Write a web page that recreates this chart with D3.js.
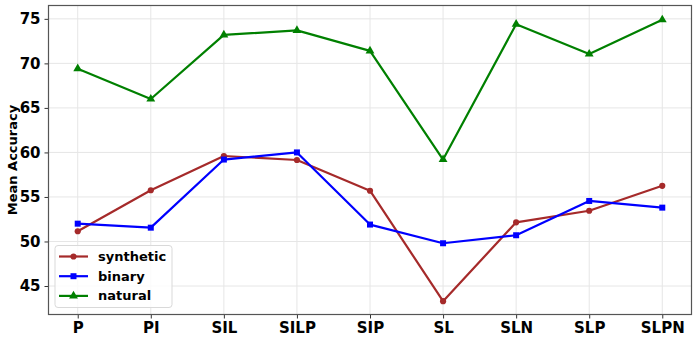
<!DOCTYPE html>
<html>
<head>
<meta charset="utf-8">
<script src="https://cdn.jsdelivr.net/npm/d3@7"></script>
<style>
  body { margin: 0; background: #fff; }
  svg text { font-family: "DejaVu Sans", sans-serif; font-weight: bold; }
</style>
</head>
<body>
<div id="chart"></div>
<script>
'use strict';

/** Data */
const categories = ["P", "PI", "SIL", "SILP", "SIP", "SL", "SLN", "SLP", "SLPN"];
const synthetic = [51.15, 55.75, 59.6, 59.15, 55.7, 43.3, 52.15, 53.45, 56.25];
const binary = [52.0, 51.55, 59.2, 60.0, 51.9, 49.8, 50.7, 54.55, 53.8];
const natural = [69.4, 66.0, 73.2, 73.7, 71.4, 59.2, 74.4, 71.05, 74.9];
const yTicks = [45, 50, 55, 60, 65, 70, 75];

const series = [
  { name: "synthetic", values: synthetic, color: "#a52a2a", marker: "circle" },
  { name: "binary", values: binary, color: "#0000ff", marker: "square" },
  { name: "natural", values: natural, color: "#008000", marker: "triangle" }
];

/** Dimensions */
const w = 698;
const h = 341;
const margin = { top: 5.5, right: 6.5, bottom: 26.5, left: 48.5 };

const svg = d3.select("#chart")
  .append("svg")
  .attr("width", w)
  .attr("height", h);

const xScale = d3.scaleLinear()
  .domain([-0.4, categories.length - 1 + 0.4])
  .range([margin.left, w - margin.right]);

const yScale = d3.scaleLinear()
  .domain([41.8, 76.5])
  .range([h - margin.bottom, margin.top]);

/* Grid */
const grid = svg.append("g").attr("class", "grid");
grid.selectAll("line.gx")
  .data(categories)
  .join("line")
  .attr("x1", (d, i) => xScale(i))
  .attr("x2", (d, i) => xScale(i))
  .attr("y1", yScale.range()[0])
  .attr("y2", yScale.range()[1])
  .attr("stroke", "#e6e6e6")
  .attr("stroke-width", 1);
grid.selectAll("line.gy")
  .data(yTicks)
  .join("line")
  .attr("x1", xScale.range()[0])
  .attr("x2", xScale.range()[1])
  .attr("y1", d => yScale(d))
  .attr("y2", d => yScale(d))
  .attr("stroke", "#e6e6e6")
  .attr("stroke-width", 1);

/* Axes */
const xAxis = d3.axisBottom(xScale)
  .tickValues(d3.range(categories.length))
  .tickFormat(i => categories[i])
  .tickSizeOuter(0)
  .tickSize(4)
  .tickPadding(4);

const yAxis = d3.axisLeft(yScale)
  .tickValues(yTicks)
  .tickSizeOuter(0)
  .tickSize(4)
  .tickPadding(4);

const gx = svg.append("g")
  .attr("transform", "translate(0," + (h - margin.bottom) + ")")
  .call(xAxis);
const gy = svg.append("g")
  .attr("transform", "translate(" + margin.left + ",0)")
  .call(yAxis);

[gx, gy].forEach(g => {
  g.select(".domain").remove();
  g.selectAll(".tick line").attr("stroke", "#333");
  g.selectAll(".tick text")
    .attr("fill", "#000")
    .style("font-size", "15px")
    .style("font-family", "'DejaVu Sans', sans-serif")
    .style("font-weight", "bold");
});

/* Frame */
svg.append("rect")
  .attr("x", margin.left)
  .attr("y", margin.top)
  .attr("width", w - margin.left - margin.right)
  .attr("height", h - margin.top - margin.bottom)
  .attr("fill", "none")
  .attr("stroke", "#555")
  .attr("stroke-width", 1.2);

/* Y label */
svg.append("text")
  .attr("transform", "translate(17," + ((margin.top + h - margin.bottom) / 2) + ") rotate(-90)")
  .attr("text-anchor", "middle")
  .style("font-size", "13px")
  .text("Mean Accuracy");

/* Lines */
const line = d3.line()
  .x((d, i) => xScale(i))
  .y(d => yScale(d));

const symbolFor = {
  circle: d3.symbol().type(d3.symbolCircle).size(30),
  square: d3.symbol().type(d3.symbolSquare).size(36),
  triangle: d3.symbol().type(d3.symbolTriangle).size(34)
};

series.forEach(s => {
  svg.append("path")
    .datum(s.values)
    .attr("d", line)
    .attr("fill", "none")
    .attr("stroke", s.color)
    .attr("stroke-width", 2.2)
    .attr("stroke-linejoin", "round");

  svg.selectAll(null)
    .data(s.values)
    .join("path")
    .attr("transform", (d, i) => "translate(" + xScale(i) + "," + yScale(d) + ")")
    .attr("d", symbolFor[s.marker]())
    .attr("fill", s.color);
});

/* Legend */
const legend = svg.append("g").attr("transform", "translate(55,245.5)");
legend.append("rect")
  .attr("width", 117)
  .attr("height", 62)
  .attr("rx", 3)
  .attr("fill", "#fff")
  .attr("fill-opacity", 0.8)
  .attr("stroke", "#d9d9d9");

series.forEach((s, i) => {
  const y = 11 + i * 19.7;
  legend.append("line")
    .attr("x1", 4).attr("x2", 33)
    .attr("y1", y).attr("y2", y)
    .attr("stroke", s.color)
    .attr("stroke-width", 2.2);
  legend.append("path")
    .attr("transform", "translate(18.5," + y + ")")
    .attr("d", symbolFor[s.marker]())
    .attr("fill", s.color);
  legend.append("text")
    .attr("x", 43)
    .attr("y", y)
    .attr("dy", "0.35em")
    .style("font-size", "13px")
    .text(s.name);
});
</script>
</body>
</html>
